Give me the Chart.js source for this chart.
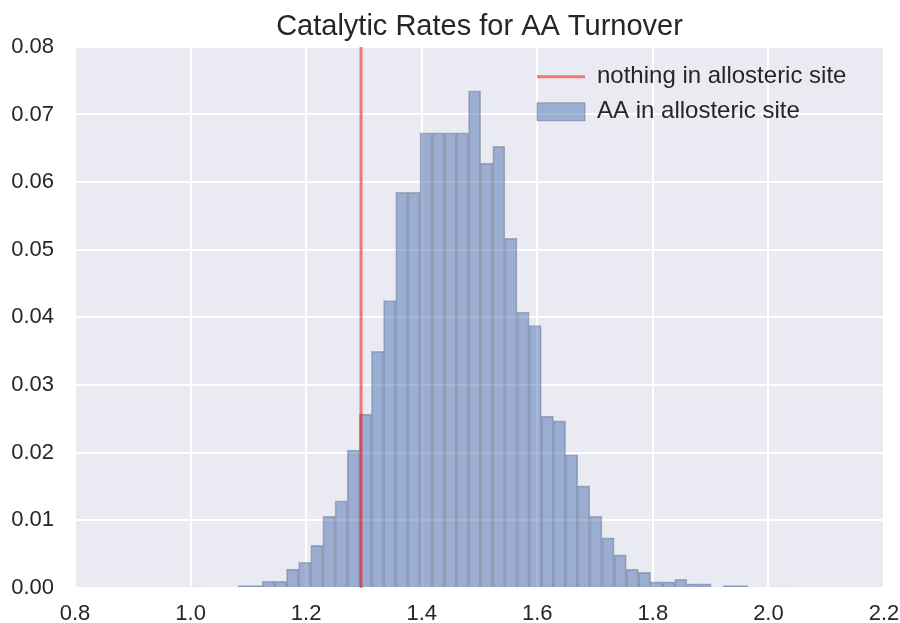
<!DOCTYPE html>
<html lang="en">
  <head>
    <meta charset="UTF-8" />
    <title>Catalytic Rates for AA Turnover</title>
    <style type="text/css">
      body {
        margin: 0;
        background-color: #ffffff;
      }
      .canva {
        display: block;
        width: 900px !important;
        height: 623px !important;
      }
    </style>
  </head>
  <body>
    <canvas id="hist" class="canva" width="900" height="623"></canvas>

    <script src="https://cdn.jsdelivr.net/npm/chart.js@4.4.1/dist/chart.umd.min.js"></script>

    <script type="text/javascript">
      // 50 histogram bins
      const binStart = 0.998;
      const binWidth = 0.021;
      const aaFractions = [
        0.00015, 0, 0, 0, 0.00035, 0.00035, 0.001, 0.001, 0.0028, 0.0038,
        0.0063, 0.0106, 0.0129, 0.0204, 0.0257, 0.035, 0.0425, 0.0585, 0.0585, 0.0673,
        0.0673, 0.0673, 0.0673, 0.0735, 0.0628, 0.0653, 0.0517, 0.0408, 0.0388, 0.0254,
        0.0247, 0.0197, 0.0151, 0.0106, 0.0074, 0.0049, 0.0028, 0.0023, 0.0009, 0.0009,
        0.0013, 0.0006, 0.0006, 0, 0.00035, 0.00035, 0, 0, 0.00015, 0.00015,
      ];
      const nothingRate = 1.295;
      const xTicks = [0.8, 1.0, 1.2, 1.4, 1.6, 1.8, 2.0, 2.2];
      const yTicks = [0, 0.01, 0.02, 0.03, 0.04, 0.05, 0.06, 0.07, 0.08];

      const textColor = "#262626";
      const fontFamily = '"Liberation Sans", Arial, sans-serif';

      const barPoints = aaFractions.map((h, i) => ({
        x: binStart + binWidth * (i + 0.5),
        y: h,
      }));

      const plotBackground = {
        id: "plotBackground",
        beforeDraw(chart) {
          const { ctx, chartArea } = chart;
          ctx.save();
          ctx.fillStyle = "#eaeaf2";
          ctx.fillRect(chartArea.left, chartArea.top, chartArea.width, chartArea.height);
          ctx.restore();
        },
      };

      // move the legend to the upper right corner of the plot
      const legendInside = {
        id: "legendInside",
        afterLayout(chart) {
          const lg = chart.legend;
          const area = chart.chartArea;
          const pad = lg.options.labels.padding;
          lg.left = area.right - 347 - pad;
          lg.right = area.right;
          lg.top = area.top + 7;
          lg.bottom = lg.top + lg.height;
        },
      };

      const hist = new Chart("hist", {
        type: "bar",
        data: {
          datasets: [
            {
              type: "line",
              label: "nothing in allosteric site",
              data: [
                { x: nothingRate, y: yTicks[0] },
                { x: nothingRate, y: yTicks[yTicks.length - 1] },
              ],
              borderColor: "rgba(255, 0, 0, 0.5)",
              backgroundColor: "rgba(255, 0, 0, 0.5)",
              borderWidth: 3,
              pointRadius: 0,
              pointBorderWidth: 3,
              pointStyle: "line",
            },
            {
              label: "AA in allosteric site",
              data: barPoints,
              backgroundColor: "rgba(76, 114, 176, 0.5)",
              borderColor: "rgba(45, 60, 95, 0.35)",
              borderWidth: 1,
              barPercentage: 1,
              categoryPercentage: 1,
              pointStyle: "rect",
            },
          ],
        },
        options: {
          responsive: false,
          animation: false,
          layout: { padding: { left: 0, right: 16, top: 0, bottom: 0 } },
          scales: {
            x: {
              type: "linear",
              offset: false,
              min: 0.8,
              max: 2.2,
              afterBuildTicks: (scale) => {
                scale.ticks = xTicks.map((v) => ({ value: v }));
              },
              afterFit: (scale) => {
                scale.height = 35;
                scale.paddingLeft = 0;
                scale.paddingRight = 0;
              },
              ticks: {
                color: textColor,
                font: { family: fontFamily, size: 22 },
                padding: 13,
                maxRotation: 0,
                callback: (v) => Number(v).toFixed(1),
              },
              grid: { color: "#ffffff", lineWidth: 2, drawTicks: false, offset: false },
              border: { display: false },
            },
            y: {
              min: 0,
              max: 0.08,
              afterBuildTicks: (scale) => {
                scale.ticks = yTicks.map((v) => ({ value: v }));
              },
              afterFit: (scale) => {
                scale.width = 75;
                scale.paddingTop = 0;
                scale.paddingBottom = 0;
              },
              ticks: {
                color: textColor,
                font: { family: fontFamily, size: 22 },
                padding: 21,
                callback: (v) => Number(v).toFixed(2),
              },
              grid: { color: "#ffffff", lineWidth: 2, drawTicks: false },
              border: { display: false },
            },
          },
          plugins: {
            title: {
              display: true,
              fullSize: false,
              text: "Catalytic Rates for AA Turnover",
              color: textColor,
              font: { family: fontFamily, size: 29, weight: "normal" },
              padding: { top: 10, bottom: 2 },
            },
            legend: {
              position: "chartArea",
              align: "start",
              labels: {
                color: textColor,
                font: { family: fontFamily, size: 24 },
                usePointStyle: true,
                pointStyleWidth: 48,
                boxHeight: 18,
                padding: 11,
              },
            },
            tooltip: { enabled: false },
          },
        },
        plugins: [plotBackground, legendInside],
      });
    </script>
  </body>
</html>
